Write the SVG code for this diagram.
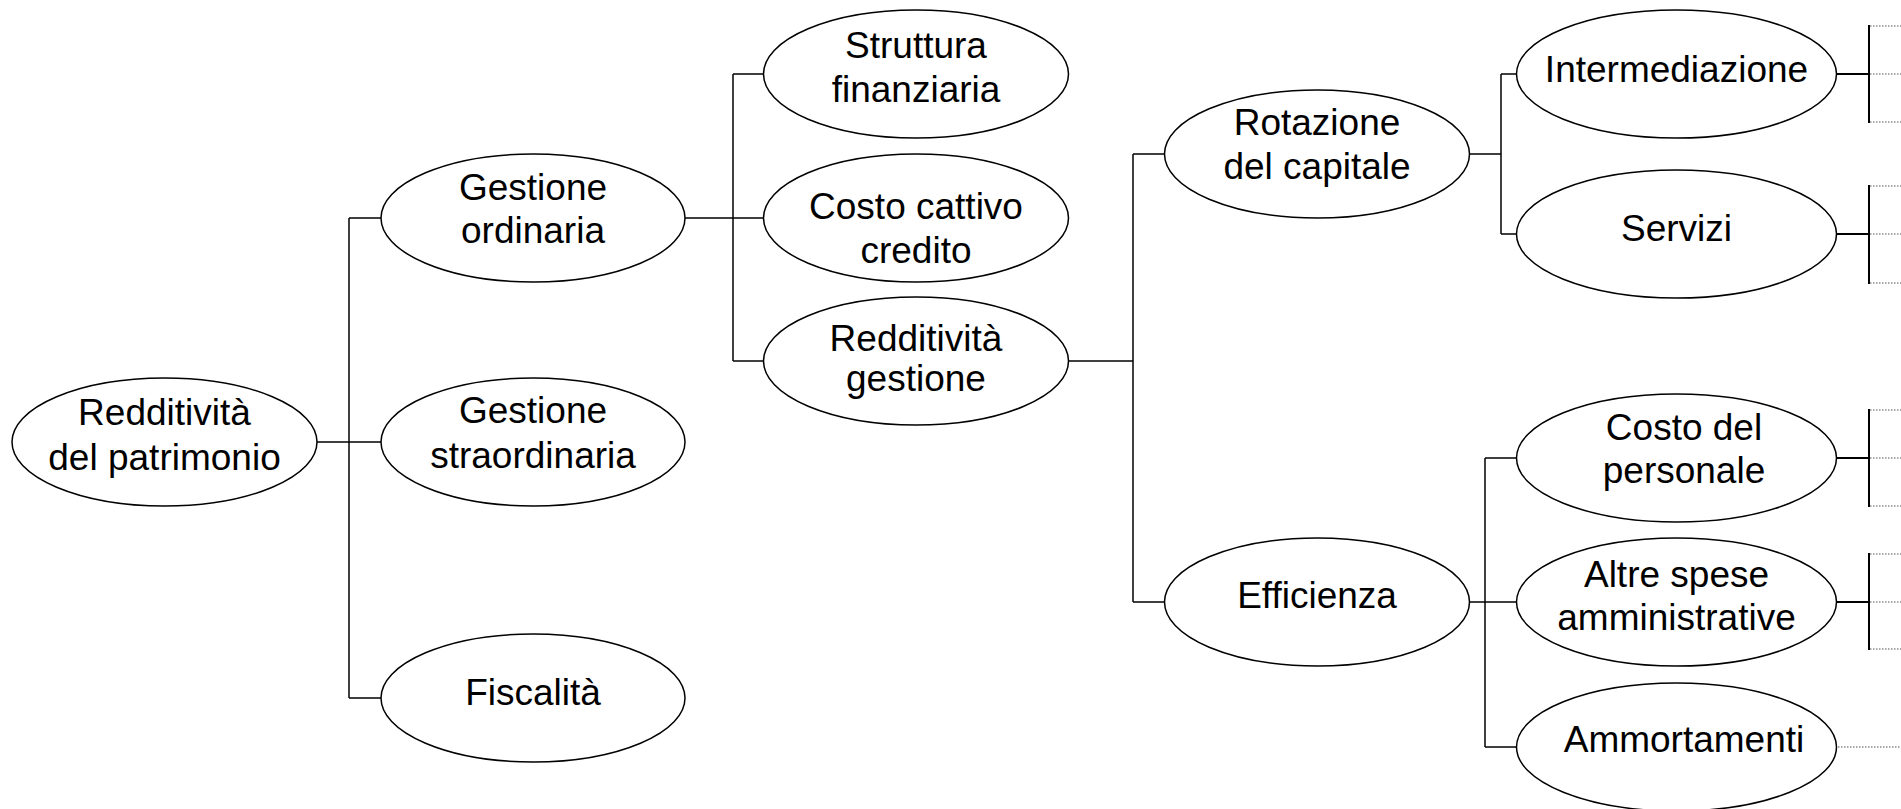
<svg xmlns="http://www.w3.org/2000/svg" width="1901" height="809" viewBox="0 0 1901 809">
<style>
.n ellipse{fill:#fff;stroke:#000;stroke-width:1.5}
.n text{font-family:"Liberation Sans",Arial,sans-serif;font-size:37px;fill:#000;text-anchor:middle}
.c line{stroke:#000;stroke-width:1.5;fill:none}
.c line.b{stroke-width:2}
.d line{stroke:#555;stroke-width:1;stroke-dasharray:1.5 1.5;fill:none}
</style>
<rect width="1901" height="809" fill="#fff"/>
<g id="connectors" class="c">
<line x1="317" y1="442" x2="349" y2="442"/>
<line x1="349" y1="218" x2="349" y2="698"/>
<line x1="349" y1="218" x2="381" y2="218"/>
<line x1="349" y1="442" x2="381" y2="442"/>
<line x1="349" y1="698" x2="381" y2="698"/>
<line x1="685" y1="218" x2="733" y2="218"/>
<line x1="733" y1="74" x2="733" y2="361"/>
<line x1="733" y1="74" x2="764" y2="74"/>
<line x1="733" y1="218" x2="764" y2="218"/>
<line x1="733" y1="361" x2="764" y2="361"/>
<line x1="1068" y1="361" x2="1133" y2="361"/>
<line x1="1133" y1="154" x2="1133" y2="602"/>
<line x1="1133" y1="154" x2="1165" y2="154"/>
<line x1="1133" y1="602" x2="1165" y2="602"/>
<line x1="1469" y1="154" x2="1501" y2="154"/>
<line x1="1501" y1="74" x2="1501" y2="234"/>
<line x1="1501" y1="74" x2="1517" y2="74"/>
<line x1="1501" y1="234" x2="1517" y2="234"/>
<line x1="1469" y1="602" x2="1485" y2="602"/>
<line x1="1485" y1="458" x2="1485" y2="747"/>
<line x1="1485" y1="458" x2="1517" y2="458"/>
<line x1="1485" y1="602" x2="1517" y2="602"/>
<line x1="1485" y1="747" x2="1517" y2="747"/>
<line class="b" x1="1836" y1="74" x2="1869" y2="74"/>
<line class="b" x1="1836" y1="234" x2="1869" y2="234"/>
<line class="b" x1="1836" y1="458" x2="1869" y2="458"/>
<line class="b" x1="1836" y1="602" x2="1869" y2="602"/>
<line class="b" x1="1869" y1="25" x2="1869" y2="123"/>
<line class="b" x1="1869" y1="185" x2="1869" y2="284"/>
<line class="b" x1="1869" y1="409" x2="1869" y2="507"/>
<line class="b" x1="1869" y1="553" x2="1869" y2="650"/>
</g>
<g id="dotted-connectors" class="d">
<line x1="1870" y1="26" x2="1901" y2="26"/>
<line x1="1870" y1="74" x2="1901" y2="74"/>
<line x1="1870" y1="122" x2="1901" y2="122"/>
<line x1="1870" y1="186" x2="1901" y2="186"/>
<line x1="1870" y1="234" x2="1901" y2="234"/>
<line x1="1870" y1="283" x2="1901" y2="283"/>
<line x1="1870" y1="410" x2="1901" y2="410"/>
<line x1="1870" y1="458" x2="1901" y2="458"/>
<line x1="1870" y1="506" x2="1901" y2="506"/>
<line x1="1870" y1="554" x2="1901" y2="554"/>
<line x1="1870" y1="602" x2="1901" y2="602"/>
<line x1="1870" y1="649" x2="1901" y2="649"/>
<line x1="1838" y1="747" x2="1901" y2="747"/>
</g>
<g id="redditivita-patrimonio" class="n"><ellipse cx="164.5" cy="442" rx="152.5" ry="64"/><text x="164.5" y="425">Redditività</text><text x="164.5" y="470">del patrimonio</text></g>
<g id="gestione-ordinaria" class="n"><ellipse cx="533" cy="218" rx="152" ry="64"/><text x="533" y="200">Gestione</text><text x="533" y="243">ordinaria</text></g>
<g id="gestione-straordinaria" class="n"><ellipse cx="533" cy="442" rx="152" ry="64"/><text x="533" y="423">Gestione</text><text x="533" y="468">straordinaria</text></g>
<g id="fiscalita" class="n"><ellipse cx="533" cy="698" rx="152" ry="64"/><text x="533" y="705">Fiscalità</text></g>
<g id="struttura-finanziaria" class="n"><ellipse cx="916" cy="74" rx="152.5" ry="64"/><text x="916" y="58">Struttura</text><text x="916" y="102">finanziaria</text></g>
<g id="costo-cattivo-credito" class="n"><ellipse cx="916" cy="218" rx="152.5" ry="64"/><text x="916" y="219">Costo cattivo</text><text x="916" y="263">credito</text></g>
<g id="redditivita-gestione" class="n"><ellipse cx="916" cy="361" rx="152.5" ry="64"/><text x="916" y="351">Redditività</text><text x="916" y="391">gestione</text></g>
<g id="rotazione-capitale" class="n"><ellipse cx="1317" cy="154" rx="152.5" ry="64"/><text x="1317" y="135">Rotazione</text><text x="1317" y="179">del capitale</text></g>
<g id="efficienza" class="n"><ellipse cx="1317" cy="602" rx="152.5" ry="64"/><text x="1317" y="608">Efficienza</text></g>
<g id="intermediazione" class="n"><ellipse cx="1676.5" cy="74" rx="160" ry="64"/><text x="1676.5" y="82">Intermediazione</text></g>
<g id="servizi" class="n"><ellipse cx="1676.5" cy="234" rx="160" ry="64"/><text x="1676.5" y="241">Servizi</text></g>
<g id="costo-personale" class="n"><ellipse cx="1676.5" cy="458" rx="160" ry="64"/><text x="1684" y="440">Costo del</text><text x="1684" y="483">personale</text></g>
<g id="altre-spese" class="n"><ellipse cx="1676.5" cy="602" rx="160" ry="64"/><text x="1676.5" y="587">Altre spese</text><text x="1676.5" y="630">amministrative</text></g>
<g id="ammortamenti" class="n"><ellipse cx="1676.5" cy="747" rx="160" ry="64"/><text x="1684" y="752">Ammortamenti</text></g>
</svg>
